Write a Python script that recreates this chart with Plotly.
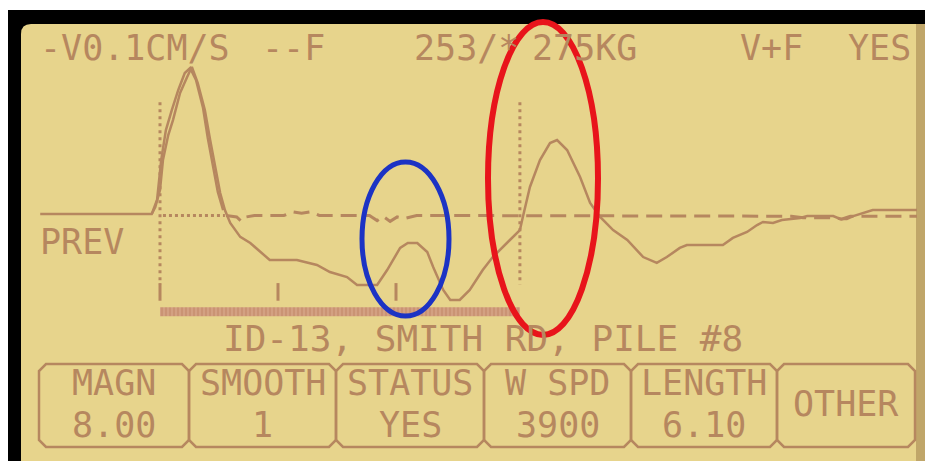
import plotly.graph_objects as go

"""
Pile integrity tester screen: velocity (solid) and force (dashed) traces
against depth, with the instrument's soft-key row underneath.
"""

# velocity trace, depth in m / amplitude in display units
v_depth = [-2.03, -0.14, -0.08, 0.00, 0.05, 0.14, 0.22, 0.34, 0.46, 0.54,
           0.64, 0.76, 0.85, 0.93, 1.02, 1.10, 1.19, 1.36, 1.53, 1.86,
           2.32, 2.66, 2.88, 3.17, 3.34, 3.68, 3.85, 4.07, 4.20, 4.36,
           4.53, 4.63, 4.80, 4.92, 5.08, 5.25, 5.47, 5.64, 5.88, 6.10,
           6.15, 6.27, 6.44, 6.61, 6.73, 6.90, 7.12, 7.29, 7.46, 7.68,
           7.92, 8.19, 8.42, 8.59, 8.81, 8.93, 9.54, 9.71, 9.95, 10.12,
           10.22, 10.39, 10.54, 10.85, 10.97, 11.41, 11.53, 11.64, 11.75, 11.92,
           12.08, 12.83]
v_amp = [0, 0, 4.8, 16.3, 36.7, 53.7, 63.9, 82.3, 93.2, 100,
         89.1, 70.7, 50.3, 32.0, 14.3, 2.7, -6.1, -15.6, -19.7, -31.3,
         -31.3, -34.7, -39.5, -42.9, -48.3, -48.3, -38.1, -23.1, -19.7, -19.7,
         -25.9, -36.1, -51.7, -58.5, -58.5, -51.7, -38.1, -29.3, -19.7, -10.9,
         -2.0, 18.4, 36.7, 48.3, 50.3, 43.5, 25.2, 7.5, -2.0, -10.9,
         -17.7, -29.3, -33.3, -29.3, -23.1, -21.1, -21.1, -16.3, -12.2, -7.5,
         -5.4, -6.1, -4.1, -2.7, -1.4, -1.4, -3.4, -3.4, -1.4, 0.7,
         2.7, 2.7]

# force trace: impact peak, then the dashed tail
f_peak_depth = [-0.14, -0.05, 0.02, 0.10, 0.20, 0.31, 0.42, 0.51, 0.61, 0.73,
                0.81, 0.90, 0.98, 1.07]
f_peak_amp = [0, 9.5, 36.7, 57.1, 70.7, 84.4, 95.9, 99.3, 91.2, 72.1,
              51.7, 33.3, 15.0, 2.7]
f_tail_depth = [1.12, 1.30, 1.38, 1.46, 1.60, 2.10, 2.25, 2.40, 2.55, 2.70,
                3.55, 3.68, 3.78, 3.90, 4.02, 4.15, 4.35, 6.10, 7.50, 10.70,
                10.90, 11.45, 11.55, 11.70, 12.83]
f_tail_amp = [-1.0, -2.0, -5.0, -2.0, -1.0, -1.0, 1.5, 0.5, 1.5, -1.0,
              -1.0, -4.5, -1.5, -5.0, -2.0, -3.0, -1.0, -1.0, -1.5, -1.5,
              -2.5, -2.5, -3.5, -1.5, -1.5]

pile_length = 6.10
tick_depths = [0, 2, 4]

header_texts = ["-V0.1CM/S", "--F", "253/*", "275KG", "V+F", "YES"]
site_label = "ID-13, SMITH RD, PILE #8"
button_names = ["MAGN", "SMOOTH", "STATUS", "W SPD", "LENGTH", "OTHER"]
button_values = ["8.00", "1", "YES", "3900", "6.10", ""]

# --- screen geometry, in pixels of the 933x461 picture ---
# the page body has an 8px margin, so the figure itself starts at (8, 8)
PAGE_W, PAGE_H, OFF = 933, 461, 8
W, H = PAGE_W - OFF, PAGE_H - OFF
X0_PX, PX_PER_M = 160, 59.0
Y0_PX, PX_PER_UNIT = 214, 1.47

BG = "#e7d48c"
INK = "#b6875f"
FONT = "DejaVu Sans Mono"


def px(x):
    return (x - OFF) / W


def py(y):
    return 1 - (y - OFF) / H


fig = go.Figure()

# zero reference (dotted) at the start of the record
fig.add_trace(go.Scatter(x=[0.05, 1.1], y=[-1, -1], mode="lines",
                         line=dict(color=INK, width=3, dash="3px,3px")))

# force trace
fig.add_trace(go.Scatter(x=f_peak_depth, y=f_peak_amp, mode="lines",
                         line=dict(color=INK, width=2.5)))
fig.add_trace(go.Scatter(x=f_tail_depth, y=f_tail_amp, mode="lines",
                         line=dict(color=INK, width=3, dash="16px,8px")))

# velocity trace
fig.add_trace(go.Scatter(x=v_depth, y=v_amp, mode="lines",
                         line=dict(color=INK, width=2.5)))

# top / toe markers
mx, my = [], []
for d in [0, pile_length]:
    mx += [d, d, None]
    my += [76, -48, None]
fig.add_trace(go.Scatter(x=mx, y=my, mode="lines",
                         line=dict(color=INK, width=3, dash="3px,4px")))

# depth ticks
tx, ty = [], []
for d in tick_depths:
    tx += [d, d, None]
    ty += [-47, -59, None]
fig.add_trace(go.Scatter(x=tx, y=ty, mode="lines",
                         line=dict(color=INK, width=3)))

# pile length bar
fig.add_trace(go.Scatter(
    x=[0, pile_length, pile_length, 0, 0],
    y=[-63.5, -63.5, -69.5, -69.5, -63.5],
    mode="lines", fill="toself", fillcolor="#d3a082",
    line=dict(width=0),
    fillpattern=dict(shape="|", fgcolor="#bf8263", size=4, solidity=0.45)))

shapes = []
# black bezel and LCD face
shapes.append(dict(type="rect", xref="paper", yref="paper",
                   x0=px(8), x1=px(PAGE_W), y0=py(PAGE_H), y1=py(10),
                   fillcolor="black", line_width=0, layer="below"))
shapes.append(dict(type="path", xref="paper", yref="paper",
                   path=(f"M {px(21)},{py(PAGE_H)} L {px(21)},{py(34)} "
                         f"Q {px(21)},{py(24)} {px(31)},{py(24)} "
                         f"L {px(927)},{py(24)} L {px(927)},{py(PAGE_H)} Z"),
                   fillcolor=BG, line_width=0, layer="below"))
# darker edge on the right of the glass
shapes.append(dict(type="rect", xref="paper", yref="paper",
                   x0=px(916), x1=px(927), y0=py(PAGE_H), y1=py(24),
                   fillcolor="rgba(120,80,40,0.35)", line_width=0, layer="below"))

# soft-key boxes
edges = [39, 189, 336, 484, 631, 777, 915]
top, bot, c = 364, 447, 7
for i in range(len(button_names)):
    a, b = edges[i], edges[i + 1]
    path = (f"M {px(a + c)},{py(top)} L {px(b - c)},{py(top)} "
            f"L {px(b)},{py(top + c)} L {px(b)},{py(bot - c)} "
            f"L {px(b - c)},{py(bot)} L {px(a + c)},{py(bot)} "
            f"L {px(a)},{py(bot - c)} L {px(a)},{py(top + c)} Z")
    shapes.append(dict(type="path", xref="paper", yref="paper", path=path,
                       line=dict(color=INK, width=2.5)))

# highlight ellipses drawn over the screen
shapes.append(dict(type="circle", xref="paper", yref="paper",
                   x0=px(362), x1=px(449), y0=py(316), y1=py(162),
                   line=dict(color="#1c33c4", width=5)))
shapes.append(dict(type="circle", xref="paper", yref="paper",
                   x0=px(488), x1=px(598), y0=py(335), y1=py(22),
                   line=dict(color="#e8141b", width=6)))


def label(text, x, y, anchor="center", size=35):
    return dict(text=text, x=px(x), y=py(y), xanchor=anchor, yanchor="middle",
                xref="paper", yref="paper", showarrow=False,
                font=dict(family=FONT, size=size, color=INK))


annotations = []
header_x = [38, 260, 412, 530, 738, 846]
for t, x in zip(header_texts, header_x):
    annotations.append(label(t, x, 48, "left"))
annotations.append(label("PREV", 38, 242, "left"))
annotations.append(label(site_label, 483, 338, size=36))
for i, (name, val) in enumerate(zip(button_names, button_values)):
    cx = (edges[i] + edges[i + 1]) / 2
    if val:
        annotations.append(label(name, cx, 383))
        annotations.append(label(val, cx, 425))
    else:
        annotations.append(label(name, cx, 404))

fig.update_layout(
    width=W, height=H,
    margin=dict(l=0, r=0, t=0, b=0),
    paper_bgcolor="white",
    plot_bgcolor="rgba(0,0,0,0)",
    showlegend=False,
    shapes=shapes,
    annotations=annotations,
    xaxis=dict(range=[(OFF - X0_PX) / PX_PER_M, (PAGE_W - X0_PX) / PX_PER_M],
               visible=False, fixedrange=True),
    yaxis=dict(range=[(Y0_PX - PAGE_H) / PX_PER_UNIT, (Y0_PX - OFF) / PX_PER_UNIT],
               visible=False, fixedrange=True),
)

fig.write_html("out.html")
